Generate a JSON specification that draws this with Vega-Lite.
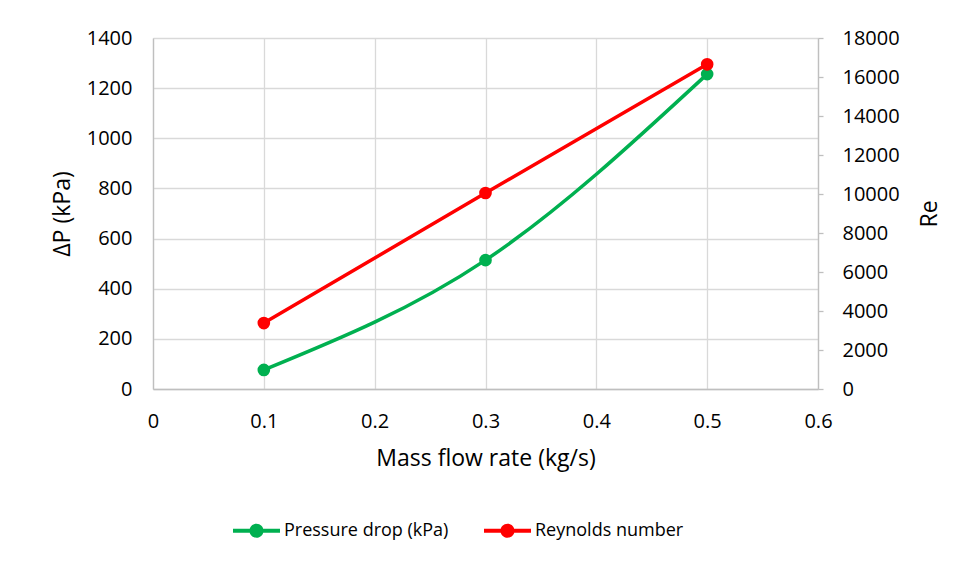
{
  "$schema": "https://vega.github.io/schema/vega-lite/v6.json",
  "autosize": "none",
  "width": 665,
  "height": 351,
  "padding": {"left": 153, "top": 38, "right": 144, "bottom": 173},
  "background": "white",
  "config": {
    "font": "Open Sans",
    "view": {"stroke": null},
    "axis": {"labelFont": "Open Sans", "titleFont": "Open Sans", "labelColor": "#000000", "titleColor": "#000000", "labelFontSize": 20, "titleFontSize": 23, "titleFontWeight": "normal", "gridColor": "#d9d9d9", "gridWidth": 1.3, "domainColor": "#bfbfbf", "domainWidth": 1.3, "tickColor": "#bfbfbf", "tickWidth": 1.3},
    "legend": {"labelFont": "Open Sans", "labelFontSize": 18, "labelColor": "#000000"}
  },
  "data": {
    "values": [
      {"flow": 0.1, "series": "Pressure drop (kPa)", "value": 76},
      {"flow": 0.3, "series": "Pressure drop (kPa)", "value": 514},
      {"flow": 0.5, "series": "Pressure drop (kPa)", "value": 1256},
      {"flow": 0.1, "series": "Reynolds number", "value": 3380},
      {"flow": 0.3, "series": "Reynolds number", "value": 10050},
      {"flow": 0.5, "series": "Reynolds number", "value": 16650}
    ]
  },
  "encoding": {
    "x": {
      "field": "flow", "type": "quantitative",
      "scale": {"domain": [0, 0.6], "nice": false},
      "axis": {"title": "Mass flow rate (kg/s)", "values": [0, 0.1, 0.2, 0.3, 0.4, 0.5, 0.6], "format": ".1~f", "ticks": false, "labelPadding": 22, "titlePadding": 16, "grid": true, "labelFlush": false}
    },
    "color": {
      "field": "series", "type": "nominal",
      "scale": {"domain": ["Pressure drop (kPa)", "Reynolds number"], "range": ["#00B050", "#FF0000"]},
      "legend": {"title": null, "orient": "none", "direction": "horizontal", "legendX": 80, "legendY": 469, "symbolType": "M-1,-0.085 H1 V0.085 H-1 Z M0.3,0 A0.3,0.3 0 1,1 -0.3,0 A0.3,0.3 0 1,1 0.3,0 Z", "symbolSize": 2209, "symbolStrokeWidth": 0, "symbolOpacity": 1, "labelOffset": 4, "columnPadding": 35, "labelLimit": 400}
    }
  },
  "layer": [
    {
      "transform": [{"filter": "datum.series === 'Pressure drop (kPa)'"}],
      "encoding": {
        "y": {
          "field": "value", "type": "quantitative",
          "scale": {"domain": [0, 1400], "nice": false},
          "axis": {"title": "ΔP (kPa)", "format": "d", "values": [0, 200, 400, 600, 800, 1000, 1200, 1400], "ticks": false, "labelPadding": 21, "titlePadding": 12, "grid": true, "domain": true}
        }
      },
      "layer": [
        {"mark": {"type": "line", "interpolate": "monotone", "strokeWidth": 3.5}},
        {"mark": {"type": "point", "filled": true, "size": 160, "opacity": 1}}
      ]
    },
    {
      "transform": [{"filter": "datum.series === 'Reynolds number'"}],
      "encoding": {
        "y": {
          "field": "value", "type": "quantitative",
          "scale": {"domain": [0, 18000], "nice": false},
          "axis": {"title": "Re", "format": "d", "orient": "right", "titleAngle": 270, "values": [0, 2000, 4000, 6000, 8000, 10000, 12000, 14000, 16000, 18000], "ticks": true, "tickSize": 5, "labelPadding": 19, "titlePadding": 42, "grid": false, "domain": true}
        }
      },
      "layer": [
        {"mark": {"type": "line", "strokeWidth": 3.5}},
        {"mark": {"type": "point", "filled": true, "size": 160, "opacity": 1}}
      ]
    }
  ],
  "resolve": {"scale": {"y": "independent"}}
}
